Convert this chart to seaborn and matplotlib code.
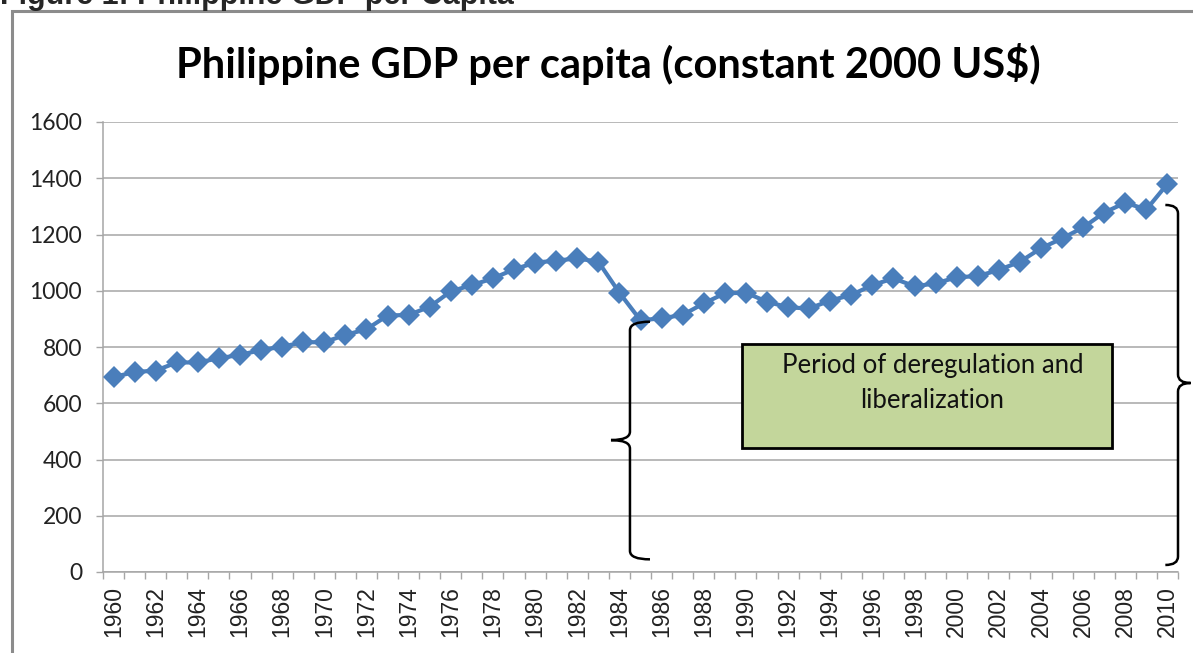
import numpy as np
import pandas as pd
import matplotlib
matplotlib.use("Agg")
import matplotlib.pyplot as plt
import seaborn as sns
from matplotlib.path import Path
from matplotlib.patches import PathPatch, Rectangle
from matplotlib.ticker import FixedLocator

# ---------------- data ----------------
years = list(range(1960, 2011))
gdp = [693, 711, 716, 745, 745, 760, 772, 789, 801, 817,
       817, 843, 863, 912, 914, 943, 998, 1020, 1044, 1076,
       1100, 1107, 1115, 1103, 993, 895, 902, 914, 955, 991,
       993, 961, 941, 937, 965, 985, 1020, 1044, 1016, 1026,
       1048, 1052, 1074, 1103, 1151, 1186, 1225, 1278, 1313, 1289, 1380]
y_ticks = [0, 200, 400, 600, 800, 1000, 1200, 1400, 1600]
x_tick_years = list(range(1960, 2011, 2))
title = "Philippine GDP per capita (constant 2000 US$)"
fig_caption = "Figure 1: Philippine GDP per Capita"
box_text = "Period of deregulation and\nliberalization"

df = pd.DataFrame({"year": years, "gdp": gdp})

sns.set_style("white")
plt.rcParams["font.family"] = ["Lato", "DejaVu Sans"]

W, H = 1193, 653
fig = plt.figure(figsize=(W / 100, H / 100), dpi=100)
ax = fig.add_axes([103 / W, 1 - 572 / H, 1075 / W, 450 / H])

grid_c = "#a6a6a6"
line_c = "#4a7ebb"

sns.lineplot(data=df, x="year", y="gdp", ax=ax, color=line_c, linewidth=3.0,
             marker="D", markersize=11, markeredgewidth=0, markerfacecolor=line_c,
             zorder=5, clip_on=False)

ax.set_xlim(1959.5, 2010.5)
ax.set_ylim(0, 1600)
ax.set_xlabel("")
ax.set_ylabel("")

# y axis
ax.set_yticks(y_ticks)
ax.set_yticklabels([str(v) for v in y_ticks], fontsize=16.5, color="#222222")
ax.yaxis.grid(True, color=grid_c, linewidth=1.1)
ax.tick_params(axis="y", which="major", direction="out", length=5, width=1,
               color=grid_c, pad=10, left=True)

# x axis
ax.set_xticks(x_tick_years)
ax.set_xticklabels([str(v) for v in x_tick_years], rotation=90, fontsize=16.5,
                   family=["Liberation Sans", "DejaVu Sans"], color="#222222")
ax.xaxis.set_minor_locator(FixedLocator(np.arange(1959.5, 2011, 1.0)))
ax.tick_params(axis="x", which="major", length=0, pad=10)
ax.tick_params(axis="x", which="minor", direction="out", length=5, width=1,
               color=grid_c, bottom=True)

for s in ["top", "right"]:
    ax.spines[s].set_visible(False)
for s in ["left", "bottom"]:
    ax.spines[s].set_color(grid_c)
    ax.spines[s].set_linewidth(1.1)

# title and caption
fig.text(608 / W, 1 - 64 / H, title, ha="center", va="center",
         fontsize=30, fontweight="bold", color="black")
fig.text(0 / W, 1 - 4 / H, fig_caption, ha="left", va="baseline",
         fontsize=22, fontweight="bold", family=["Liberation Sans", "DejaVu Sans"])

# outer chart border
fig.patches.append(Rectangle((12 / W, -0.5), 2.0, (1 - 11 / H) + 0.5,
                             transform=fig.transFigure, fill=False,
                             edgecolor="#8c8c8c", linewidth=2.2))

# annotation box (axes coordinates)
bx0, bx1 = (742 - 103) / 1075, (1112 - 103) / 1075
by0, by1 = (572 - 448) / 450, (572 - 344) / 450
ax.add_patch(Rectangle((bx0, by0), bx1 - bx0, by1 - by0, transform=ax.transAxes,
                       facecolor="#c3d69b", edgecolor="black", linewidth=2, zorder=6))
ax.text((bx0 + bx1) / 2 + 0.005, (572 - 353) / 450, box_text, transform=ax.transAxes,
        ha="center", va="top", fontsize=18.5, linespacing=1.52, zorder=7,
        color="#111111")

# curly braces (data coordinates)
def brace(x, ytop, ybot, ymid, tip_x, hook_x, dy):
    verts = [(hook_x, ytop), (x, ytop), (x, ytop - dy),
             (x, ymid + dy),
             (x, ymid), (tip_x, ymid),
             (x, ymid), (x, ymid - dy),
             (x, ybot + dy),
             (x, ybot), (hook_x, ybot)]
    codes = [Path.MOVETO, Path.CURVE3, Path.CURVE3,
             Path.LINETO,
             Path.CURVE3, Path.CURVE3,
             Path.CURVE3, Path.CURVE3,
             Path.LINETO,
             Path.CURVE3, Path.CURVE3]
    ax.add_patch(PathPatch(Path(verts, codes), facecolor="none", edgecolor="black",
                           linewidth=1.8, clip_on=False, zorder=8))

brace(x=1984.5, ytop=890, ybot=45, ymid=469, tip_x=1983.6, hook_x=1985.45, dy=30)
brace(x=2010.5, ytop=1305, ybot=25, ymid=672, tip_x=2011.1, hook_x=2009.9, dy=30)

fig.savefig("out.png", dpi=100)
